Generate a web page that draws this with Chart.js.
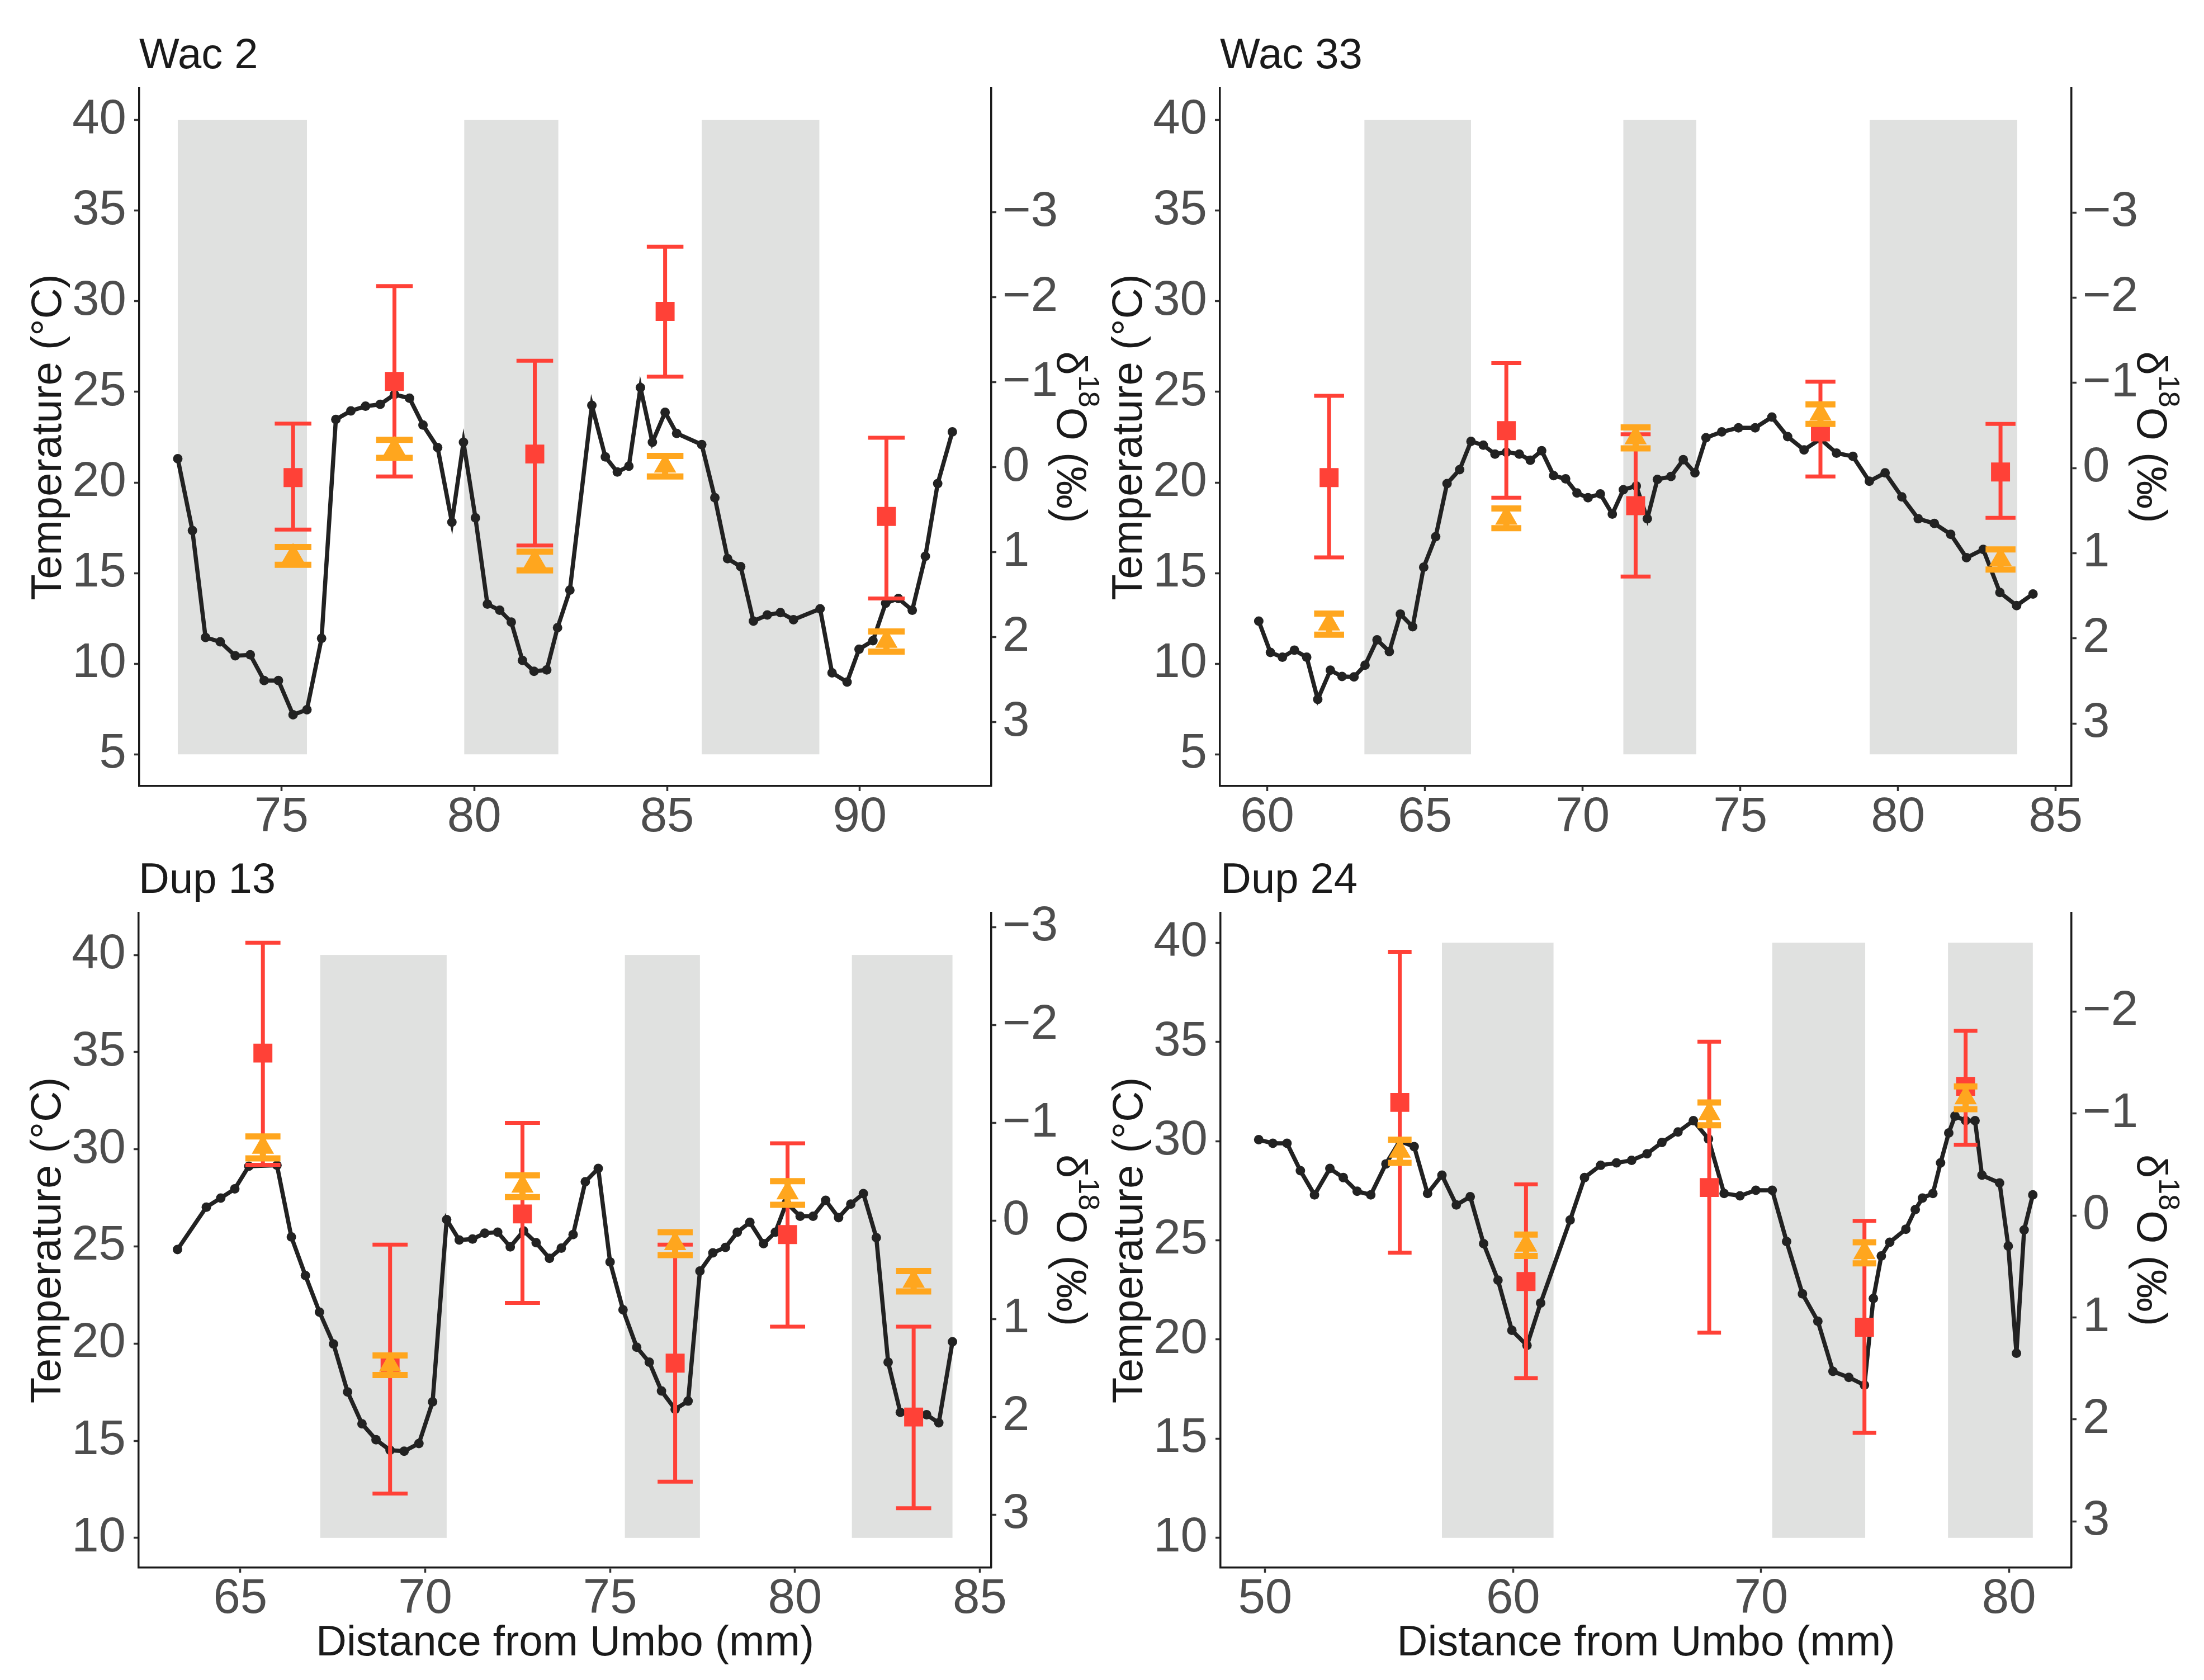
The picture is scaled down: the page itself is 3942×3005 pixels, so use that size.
<!DOCTYPE html>
<html>
<head>
<meta charset="utf-8">
<script src="https://cdn.jsdelivr.net/npm/chart.js@4.4.1/dist/chart.umd.min.js"></script>
<style>
  html, body { margin: 0; padding: 0; background: #ffffff; }
  #wrap { position: relative; width: 3942px; height: 3005px; background: #ffffff; overflow: hidden; }
  canvas { position: absolute; }
</style>
</head>
<body>
<div id="wrap">
  <canvas id="c0" width="1971" height="1502" style="left:0px;top:0px;width:1971px;height:1502px"></canvas>
  <canvas id="c1" width="1971" height="1502" style="left:1971px;top:0px;width:1971px;height:1502px"></canvas>
  <canvas id="c2" width="1971" height="1503" style="left:0px;top:1502px;width:1971px;height:1503px"></canvas>
  <canvas id="c3" width="1971" height="1503" style="left:1971px;top:1502px;width:1971px;height:1503px"></canvas>
</div>
<script>
// ---------------- DATA ----------------
const panelTitles = ['Wac 2', 'Wac 33', 'Dup 13', 'Dup 24'];

// Wac 2
const wac2LineX = [72.31, 72.69, 73.03, 73.41, 73.80, 74.19, 74.55, 74.92, 75.30, 75.66, 76.04, 76.41, 76.80, 77.18, 77.56, 77.93, 78.32, 78.67, 79.05, 79.42, 79.72, 80.03, 80.34, 80.66, 80.96, 81.25, 81.55, 81.88, 82.16, 82.48, 83.05, 83.40, 83.71, 84.01, 84.31, 84.62, 84.95, 85.25, 85.90, 86.24, 86.57, 86.91, 87.24, 87.60, 87.94, 88.28, 88.97, 89.28, 89.67, 89.98, 90.34, 90.67, 91.00, 91.36, 91.70, 92.02, 92.40];
const wac2LineT = [21.31, 17.35, 11.45, 11.21, 10.44, 10.49, 9.07, 9.07, 7.18, 7.46, 11.40, 23.48, 23.95, 24.21, 24.31, 24.86, 24.65, 23.17, 21.93, 17.81, 22.22, 18.05, 13.29, 12.95, 12.30, 10.18, 9.58, 9.66, 11.99, 14.06, 24.26, 21.41, 20.58, 20.90, 25.24, 22.22, 23.87, 22.71, 22.09, 19.16, 15.80, 15.36, 12.35, 12.69, 12.82, 12.43, 13.03, 9.50, 8.99, 10.80, 11.27, 13.34, 13.60, 12.95, 15.93, 19.94, 22.79];
const wac2SampleX = [75.30, 77.93, 81.57, 84.95, 90.69];
const wac2RedT = [20.27, 25.58, 21.57, 29.44, 18.13];
const wac2RedLow = [17.40, 20.33, 16.52, 25.84, 13.60];
const wac2RedHigh = [23.25, 30.84, 26.72, 33.01, 22.47];
const wac2OrangeT = [15.95, 21.85, 15.67, 20.90, 11.23];
const wac2OrangeLow = [15.46, 21.36, 15.15, 20.33, 10.67];
const wac2OrangeHigh = [16.44, 22.35, 16.18, 21.47, 11.78];
const wac2ShadeStart = [72.31, 79.74, 85.90];
const wac2ShadeEnd = [75.66, 82.18, 88.95];

// Wac 33
const wac33LineX = [59.73, 60.10, 60.48, 60.86, 61.25, 61.60, 62.00, 62.37, 62.75, 63.10, 63.48, 63.87, 64.22, 64.61, 64.96, 65.34, 65.70, 66.10, 66.46, 66.85, 67.22, 67.58, 67.99, 68.34, 68.70, 69.08, 69.46, 69.82, 70.17, 70.56, 70.94, 71.29, 71.70, 72.05, 72.37, 72.80, 73.19, 73.56, 73.91, 74.41, 74.94, 75.47, 76.00, 76.50, 77.02, 77.54, 78.05, 78.57, 79.09, 79.59, 80.12, 80.64, 81.15, 81.67, 82.17, 82.70, 83.23, 83.76, 84.28];
const wac33LineT = [12.35, 10.62, 10.36, 10.75, 10.36, 8.03, 9.64, 9.30, 9.27, 9.92, 11.32, 10.67, 12.74, 12.04, 15.33, 17.01, 19.94, 20.71, 22.27, 22.06, 21.57, 21.67, 21.57, 21.23, 21.75, 20.38, 20.20, 19.42, 19.16, 19.37, 18.26, 19.60, 19.81, 18.00, 20.17, 20.33, 21.26, 20.53, 22.47, 22.79, 23.02, 23.02, 23.61, 22.53, 21.80, 22.40, 21.62, 21.44, 20.07, 20.53, 19.21, 18.00, 17.74, 17.14, 15.85, 16.31, 13.93, 13.21, 13.85];
const wac33SampleX = [61.96, 67.58, 71.68, 77.54, 83.25];
const wac33RedT = [20.27, 22.86, 18.72, 22.79, 20.58];
const wac33RedLow = [15.87, 19.16, 14.81, 20.33, 18.05];
const wac33RedHigh = [24.78, 26.59, 22.66, 25.56, 23.23];
const wac33OrangeT = [12.19, 18.03, 22.46, 23.77, 15.76];
const wac33OrangeLow = [11.60, 17.48, 21.88, 23.23, 15.20];
const wac33OrangeHigh = [12.77, 18.57, 23.04, 24.31, 16.31];
const wac33ShadeStart = [63.08, 71.29, 79.10];
const wac33ShadeEnd = [66.46, 73.60, 83.78];

// Dup 13
const dup13LineX = [63.30, 64.08, 64.47, 64.85, 65.23, 65.99, 66.38, 66.76, 67.14, 67.52, 67.90, 68.29, 68.67, 69.05, 69.43, 69.83, 70.20, 70.58, 70.92, 71.28, 71.61, 71.96, 72.30, 72.66, 73.00, 73.36, 73.68, 74.00, 74.33, 74.68, 75.00, 75.35, 75.72, 76.06, 76.39, 76.76, 77.11, 77.43, 77.78, 78.12, 78.44, 78.78, 79.15, 79.47, 79.77, 80.14, 80.49, 80.83, 81.18, 81.51, 81.85, 82.20, 82.52, 82.85, 83.19, 83.56, 83.89, 84.26];
const dup13LineT = [24.84, 27.02, 27.49, 27.96, 29.13, 29.18, 25.49, 23.50, 21.62, 19.98, 17.51, 15.87, 15.05, 14.51, 14.46, 14.86, 17.00, 26.38, 25.33, 25.38, 25.68, 25.73, 24.98, 25.80, 25.19, 24.39, 24.91, 25.61, 28.33, 29.01, 24.20, 21.74, 19.81, 19.04, 17.56, 16.62, 17.04, 23.73, 24.67, 24.95, 25.73, 26.24, 25.14, 25.73, 27.25, 26.55, 26.55, 27.37, 26.48, 27.18, 27.72, 25.45, 19.04, 16.46, 16.34, 16.34, 15.92, 20.09];
const dup13SampleX = [65.61, 69.05, 72.63, 76.76, 79.80, 83.21];
const dup13RedT = [34.95, 18.90, 26.67, 18.99, 25.61, 16.22];
const dup13RedLow = [29.20, 12.28, 22.09, 12.89, 20.87, 11.53];
const dup13RedHigh = [40.63, 25.09, 31.36, 25.09, 30.31, 20.87];
const dup13OrangeT = [30.10, 18.89, 28.10, 25.14, 27.75, 23.20];
const dup13OrangeLow = [29.53, 18.38, 27.54, 24.55, 27.14, 22.68];
const dup13OrangeHigh = [30.66, 19.39, 28.66, 25.73, 28.36, 23.73];
const dup13ShadeStart = [67.16, 75.40, 81.54];
const dup13ShadeEnd = [70.58, 77.43, 84.26];

// Dup 24
const dup24LineX = [49.74, 50.31, 50.88, 51.42, 51.99, 52.61, 53.15, 53.71, 54.26, 54.87, 55.43, 56.01, 56.55, 57.13, 57.71, 58.27, 58.81, 59.39, 59.95, 60.56, 61.11, 62.30, 62.88, 63.53, 64.17, 64.78, 65.40, 66.00, 66.65, 67.27, 67.88, 68.51, 69.15, 69.79, 70.45, 71.03, 71.67, 72.29, 72.90, 73.54, 74.17, 74.53, 74.85, 75.19, 75.84, 76.22, 76.51, 76.93, 77.24, 77.57, 77.82, 78.25, 78.63, 78.91, 79.62, 79.97, 80.30, 80.61, 80.96];
const dup24LineT = [30.07, 29.89, 29.89, 28.51, 27.29, 28.62, 28.16, 27.47, 27.29, 28.85, 30.00, 29.72, 27.36, 28.28, 26.78, 27.20, 24.83, 22.99, 20.46, 19.70, 21.84, 26.02, 28.16, 28.78, 28.90, 29.03, 29.36, 29.93, 30.46, 31.03, 30.11, 27.36, 27.24, 27.52, 27.52, 24.94, 22.30, 20.92, 18.39, 18.09, 17.70, 22.07, 24.21, 24.90, 25.56, 26.55, 27.13, 27.36, 28.90, 30.41, 31.26, 31.03, 31.03, 28.28, 27.89, 24.71, 19.31, 25.52, 27.29];
const dup24SampleX = [55.43, 60.52, 67.91, 74.17, 78.25];
const dup24RedT = [31.95, 22.92, 27.66, 20.62, 32.76];
const dup24RedLow = [24.37, 18.05, 20.34, 15.29, 29.82];
const dup24RedHigh = [39.54, 27.82, 35.01, 25.98, 35.56];
const dup24OrangeT = [29.49, 24.75, 31.38, 24.37, 32.18];
const dup24OrangeLow = [28.90, 24.21, 30.80, 23.84, 31.61];
const dup24OrangeHigh = [30.07, 25.29, 31.95, 24.90, 32.76];
const dup24ShadeStart = [57.13, 70.45, 77.54];
const dup24ShadeEnd = [61.63, 74.20, 80.96];

// Axes
const distMin = [71.31, 58.50, 62.25, 48.20];
const distMax = [93.41, 85.50, 85.31, 82.52];
const distTicks = [[75, 80, 85, 90], [60, 65, 70, 75, 80, 85], [65, 70, 75, 80, 85], [50, 60, 70, 80]];
const tempMin = [3.25, 3.25, 8.47, 8.50];
const tempMax = [41.75, 41.75, 42.16, 41.50];
const tempTicks = [[5, 10, 15, 20, 25, 30, 35, 40], [5, 10, 15, 20, 25, 30, 35, 40], [10, 15, 20, 25, 30, 35, 40], [10, 15, 20, 25, 30, 35, 40]];
const shadeTempLow = [5, 5, 10, 10];
const shadeTempHigh = [40, 40, 40, 40];
// secondary axis: temperature at d18O = 0 and degrees per permil
const d18OZeroTemp = [20.84, 20.80, 26.31, 26.25];
const d18OSlope = [4.69, 4.70, 5.04, 5.14];
const d18OTicks = [[-3, -2, -1, 0, 1, 2, 3], [-3, -2, -1, 0, 1, 2, 3], [-3, -2, -1, 0, 1, 2, 3], [-2, -1, 0, 1, 2, 3]];

// ---------------- STYLE / LAYOUT ----------------
const RED = '#FF4137';
const ORANGE = '#FFA61E';
const LINE = '#222222';
const SHADE = '#E0E1E0';
const FONT = '"Liberation Sans", Arial, sans-serif';
const CAP_MM = 0.95;
const layouts = [
  { yW: 249, y2W: 198, top: 158, xH: 96, xTitle: false },
  { yW: 211, y2W: 237, top: 158, xH: 96, xTitle: false },
  { yW: 248, y2W: 198, top: 131, xH: 201, xTitle: true },
  { yW: 212, y2W: 237, top: 131, xH: 201, xTitle: true }
];

const panelData = [
  { lx: wac2LineX, lt: wac2LineT, sx: wac2SampleX, rt: wac2RedT, rl: wac2RedLow, rh: wac2RedHigh, ot: wac2OrangeT, ol: wac2OrangeLow, oh: wac2OrangeHigh, ss: wac2ShadeStart, se: wac2ShadeEnd },
  { lx: wac33LineX, lt: wac33LineT, sx: wac33SampleX, rt: wac33RedT, rl: wac33RedLow, rh: wac33RedHigh, ot: wac33OrangeT, ol: wac33OrangeLow, oh: wac33OrangeHigh, ss: wac33ShadeStart, se: wac33ShadeEnd },
  { lx: dup13LineX, lt: dup13LineT, sx: dup13SampleX, rt: dup13RedT, rl: dup13RedLow, rh: dup13RedHigh, ot: dup13OrangeT, ol: dup13OrangeLow, oh: dup13OrangeHigh, ss: dup13ShadeStart, se: dup13ShadeEnd },
  { lx: dup24LineX, lt: dup24LineT, sx: dup24SampleX, rt: dup24RedT, rl: dup24RedLow, rh: dup24RedHigh, ot: dup24OrangeT, ol: dup24OrangeLow, oh: dup24OrangeHigh, ss: dup24ShadeStart, se: dup24ShadeEnd }
];

// ---------------- PLUGINS ----------------
const shadingPlugin = {
  id: 'shading',
  beforeDatasetsDraw(chart, args, opts) {
    const xs = chart.scales.x, ys = chart.scales.y, c = chart.ctx;
    c.save();
    c.fillStyle = SHADE;
    const yTop = ys.getPixelForValue(opts.high), yBot = ys.getPixelForValue(opts.low);
    opts.starts.forEach((s, k) => {
      const x0 = xs.getPixelForValue(s), x1 = xs.getPixelForValue(opts.ends[k]);
      c.fillRect(x0, yTop, x1 - x0, yBot - yTop);
    });
    c.restore();
  }
};

const errorBarPlugin = {
  id: 'errorBars',
  beforeDatasetDraw(chart, args) {
    const ds = chart.data.datasets[args.index];
    if (!ds.errLow) return;
    const xs = chart.scales.x, ys = chart.scales.y, c = chart.ctx;
    c.save();
    c.strokeStyle = ds.errColor;
    c.lineWidth = ds.errWidth;
    c.lineCap = 'butt';
    ds.data.forEach((p, k) => {
      const px = xs.getPixelForValue(p.x);
      const half = xs.getPixelForValue(p.x + CAP_MM / 2) - px;
      const yl = ys.getPixelForValue(ds.errLow[k]);
      const yh = ys.getPixelForValue(ds.errHigh[k]);
      c.beginPath();
      c.moveTo(px, yl); c.lineTo(px, yh);
      c.moveTo(px - half, yl); c.lineTo(px + half, yl);
      c.moveTo(px - half, yh); c.lineTo(px + half, yh);
      c.stroke();
    });
    c.restore();
  }
};

const textPlugin = {
  id: 'panelText',
  afterDraw(chart, args, opts) {
    const a = chart.chartArea, c = chart.ctx;
    const midY = (a.top + a.bottom) / 2;
    c.save();
    c.fillStyle = '#1a1a1a';
    c.textBaseline = 'alphabetic';
    // panel title
    c.font = '76px ' + FONT;
    c.textAlign = 'left';
    c.fillText(opts.title, a.left, a.top - 36);
    // left axis title
    c.save();
    c.translate(a.left - 140, midY);
    c.rotate(-Math.PI / 2);
    c.textAlign = 'center';
    c.fillText('Temperature (°C)', 0, 0);
    c.restore();
    // right axis title: δ18O (‰)
    c.save();
    c.translate(a.right + 118, midY);
    c.rotate(Math.PI / 2);
    c.textAlign = 'left';
    const f1 = '76px ' + FONT, f2 = '52px ' + FONT;
    c.font = f1;
    const wD = c.measureText('δ').width;
    const wO = c.measureText('O (‰)').width;
    c.font = f2;
    const w18 = c.measureText('18').width;
    let x0 = -(wD + w18 + wO) / 2;
    c.font = f1; c.fillText('δ', x0, 0); x0 += wD;
    c.font = f2; c.fillText('18', x0, -39); x0 += w18;
    c.font = f1; c.fillText('O (‰)', x0, 0);
    c.restore();
    // bottom title
    if (opts.xTitle) {
      c.font = '76px ' + FONT;
      c.textAlign = 'center';
      c.fillText('Distance from Umbo (mm)', (a.left + a.right) / 2, a.bottom + 157);
    }
    c.restore();
  }
};

// ---------------- CHARTS ----------------
function axisCommon() {
  return {
    grid: { drawOnChartArea: false, drawTicks: true, tickLength: 9, tickWidth: 3.5, tickColor: '#333333' },
    border: { display: true, color: '#1a1a1a', width: 3.5 }
  };
}

function makePanel(i) {
  const d = panelData[i], L = layouts[i];
  const zeroT = d18OZeroTemp[i], slope = d18OSlope[i];
  const ticksFont = { family: FONT, size: 87, lineHeight: 1 };
  new Chart(document.getElementById('c' + i), {
    type: 'line',
    data: {
      datasets: [
        {
          type: 'line', label: 'profile',
          data: d.lx.map((x, k) => ({ x: x, y: d.lt[k] })),
          borderColor: LINE, backgroundColor: LINE, borderWidth: 7.5,
          pointRadius: 8.5, pointHoverRadius: 8.5, pointBackgroundColor: LINE, pointBorderWidth: 0,
          tension: 0, fill: false, order: 5, clip: false
        },
        {
          type: 'scatter', label: 'red',
          data: d.sx.map((x, k) => ({ x: x, y: d.rt[k] })),
          errLow: d.rl, errHigh: d.rh, errColor: RED, errWidth: 7,
          pointStyle: 'rect', pointRadius: 24, pointHoverRadius: 24,
          backgroundColor: RED, borderColor: RED, borderWidth: 0, order: 3, clip: false
        },
        {
          type: 'scatter', label: 'orange',
          data: d.sx.map((x, k) => ({ x: x, y: d.ot[k] })),
          errLow: d.ol, errHigh: d.oh, errColor: ORANGE, errWidth: 11,
          pointStyle: 'triangle', pointRadius: 23, pointHoverRadius: 23,
          backgroundColor: ORANGE, borderColor: ORANGE, borderWidth: 0, order: 1, clip: false
        }
      ]
    },
    options: {
      responsive: false,
      animation: false,
      devicePixelRatio: 1,
      events: [],
      layout: { padding: { top: L.top, left: 0, right: 0, bottom: 0 } },
      plugins: {
        legend: { display: false },
        tooltip: { enabled: false },
        shading: { starts: d.ss, ends: d.se, low: shadeTempLow[i], high: shadeTempHigh[i] },
        panelText: { title: panelTitles[i], xTitle: L.xTitle }
      },
      scales: {
        x: Object.assign(axisCommon(), {
          type: 'linear', position: 'bottom',
          min: distMin[i], max: distMax[i],
          afterBuildTicks: s => { s.ticks = distTicks[i].map(v => ({ value: v })); },
          afterFit: s => { s.height = L.xH; },
          ticks: { color: '#4d4d4d', font: ticksFont, padding: 5, maxRotation: 0, autoSkip: false }
        }),
        y: Object.assign(axisCommon(), {
          type: 'linear', position: 'left',
          min: tempMin[i], max: tempMax[i],
          afterBuildTicks: s => { s.ticks = tempTicks[i].map(v => ({ value: v })); },
          afterFit: s => { s.width = L.yW; },
          ticks: { color: '#4d4d4d', font: ticksFont, padding: 14, autoSkip: false }
        }),
        y2: Object.assign(axisCommon(), {
          type: 'linear', position: 'right', reverse: true,
          min: (zeroT - tempMax[i]) / slope, max: (zeroT - tempMin[i]) / slope,
          afterBuildTicks: s => { s.ticks = d18OTicks[i].map(v => ({ value: v })); },
          afterFit: s => { s.width = L.y2W; },
          ticks: {
            color: '#4d4d4d', font: ticksFont, padding: 11, autoSkip: false,
            callback: v => (v < 0 ? '\u2212' + Math.abs(v) : String(v))
          }
        })
      }
    },
    plugins: [shadingPlugin, errorBarPlugin, textPlugin]
  });
}

[0, 1, 2, 3].forEach(makePanel);
</script>
</body>
</html>
